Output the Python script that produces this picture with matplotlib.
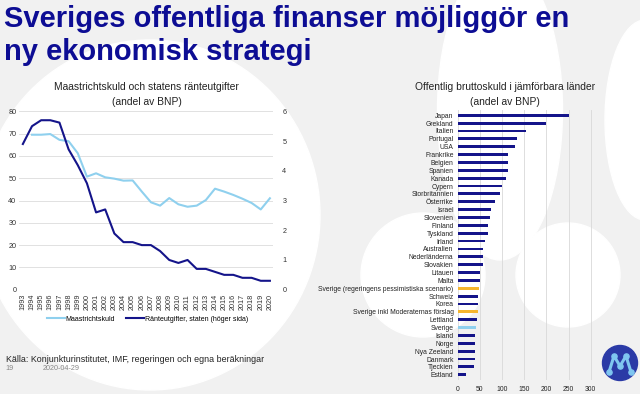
import matplotlib
matplotlib.use("Agg")
import matplotlib.pyplot as plt
from matplotlib.patches import Circle, Ellipse
import numpy as np

plt.rcParams['font.family'] = ['Liberation Sans', 'DejaVu Sans']

# left chart: debt and interest costs
years = list(range(1993, 2021))
maastricht_years = list(range(1994, 2021))
maastricht = [69.5, 69.5, 69.8, 67.2, 66.6, 61.2, 50.7, 52.2, 50.4, 49.8, 48.9, 49.0,
              44.0, 39.2, 37.7, 41.1, 38.3, 37.2, 37.7, 40.2, 45.3, 44.0, 42.5, 40.8,
              38.9, 36.0, 41.0]
ranta = [4.9, 5.5, 5.7, 5.7, 5.62, 4.72, 4.19, 3.58, 2.6, 2.7, 1.89, 1.6, 1.6, 1.5,
         1.5, 1.3, 1.0, 0.9, 1.0, 0.7, 0.7, 0.6, 0.5, 0.5, 0.4, 0.4, 0.3, 0.3]

# right chart: gross debt by country
countries = ['Japan', 'Grekland', 'Italien', 'Portugal', 'USA', 'Frankrike', 'Belgien',
             'Spanien', 'Kanada', 'Cypern', 'Storbritannien', 'Österrike', 'Israel',
             'Slovenien', 'Finland', 'Tyskland', 'Irland', 'Australien', 'Nederländerna',
             'Slovakien', 'Litauen', 'Malta', 'Sverige (regeringens pessimistiska scenario)',
             'Schweiz', 'Korea', 'Sverige inkl Moderaternas förslag', 'Lettland', 'Sverige',
             'Island', 'Norge', 'Nya Zeeland', 'Danmark', 'Tjeckien', 'Estland']
debt = [252, 200, 154, 134, 130, 114, 113.5, 113, 109, 100, 95, 83, 75, 72, 69, 67.5,
        62, 58, 57, 56, 50.5, 50, 48.5, 45.5, 44.7, 44.7, 43, 41, 39.4, 38.6, 38.6, 38,
        36, 19]

navy = '#14148a'
light = '#8fd0ee'
gold = '#f5b52e'
bar_colors = []
for c in countries:
    if c == 'Sverige':
        bar_colors.append(light)
    elif c.startswith('Sverige'):
        bar_colors.append(gold)
    else:
        bar_colors.append(navy)

fig = plt.figure(figsize=(6.4, 3.94), dpi=100)
fig.patch.set_facecolor('#f1f1f1')
W, H = 640, 394

# background watermark shapes
bg = fig.add_axes([0, 0, 1, 1])
bg.set_xlim(0, W)
bg.set_ylim(H, 0)
bg.axis('off')
bg.add_patch(Ellipse((150, 215), 340, 350, color='white', zorder=0))
bg.add_patch(Ellipse((500, 110), 125, 300, color='white', zorder=0))
bg.add_patch(Circle((423, 275), 62, color='white', zorder=0))
bg.add_patch(Circle((568, 275), 52, color='white', zorder=0))
bg.add_patch(Ellipse((645, 120), 80, 200, color='white', zorder=0))

# logo
bg.add_patch(Circle((620, 363), 17.5, color='#2b3aa6', zorder=2))
mx = [609, 614, 620, 626, 631]
my = [372, 356, 366, 356, 372]
bg.plot(mx, my, color='#7fc6f0', lw=2.2, zorder=3, solid_capstyle='round')
bg.scatter([614, 626, 620, 609, 631], [356, 356, 366, 372, 372], s=14, color='#7fc6f0', zorder=4)

fig.text(0.006, 1 - 27 / H, 'Sveriges offentliga finanser möjliggör en',
         fontsize=21, fontweight='bold', color='#0d0d94', va='baseline', ha='left')
fig.text(0.006, 1 - 60 / H, 'ny ekonomisk strategi',
         fontsize=21, fontweight='bold', color='#0d0d94', va='baseline', ha='left')

# left chart
ax = fig.add_axes([0.030, 0.2647, 0.396, 0.4528])
ax2 = ax.twinx()
ax.plot(maastricht_years, maastricht, color=light, lw=1.5, label='Maastrichtskuld')
ax2.plot(years, ranta, color=navy, lw=1.5, label='Ränteutgifter, staten (höger sida)')
ax.set_ylim(0, 80)
ax2.set_ylim(0, 6)
ax.set_xlim(1992.6, 2020.3)
ax.set_yticks(range(0, 81, 10))
ax2.set_yticks(range(0, 7))
ax.set_xticks(years)
ax.set_xticklabels([str(y) for y in years], rotation=90, fontsize=5)
ax.yaxis.grid(True, color='#dcdcdc', lw=0.6)
ax.set_axisbelow(True)
for a in (ax, ax2):
    for s in a.spines.values():
        s.set_visible(False)
    a.tick_params(length=0, labelsize=5.2, colors='#333333')
ax.tick_params(axis='y', pad=2)
ax2.tick_params(axis='y', pad=7)
ax.tick_params(axis='x', pad=3)
ax.patch.set_alpha(0)
fig.text(0.229, 1 - 107 / H, 'Maastrichtskuld och statens ränteutgifter\n(andel av BNP)',
         fontsize=7.4, color='#222222', ha='center', va='bottom', linespacing=1.6)
h1, l1 = ax.get_legend_handles_labels()
h2, l2 = ax2.get_legend_handles_labels()
fig.legend(h1 + h2, l1 + l2, loc='center', bbox_to_anchor=(0.23, 0.19), ncol=2,
           frameon=False, fontsize=5, handlelength=2.6, handletextpad=0.1,
           columnspacing=1.6)

fig.text(0.009, 1 - 359 / H, 'Källa: Konjunkturinstitutet, IMF, regeringen och egna beräkningar',
         fontsize=6.4, color='#222222', va='center')
fig.text(0.009, 1 - 369 / H, '19', fontsize=5.2, color='#888888', va='center')
fig.text(0.066, 1 - 369 / H, '2020-04-29', fontsize=5.2, color='#888888', va='center')

# right chart
bx = fig.add_axes([0.7152, 0.0355, 0.2113, 0.6853])
ypos = np.arange(len(countries))
bx.barh(ypos, debt, height=0.36, color=bar_colors)
bx.set_ylim(len(countries) - 1 + 0.67, -0.67)
bx.set_xlim(0, 305)
bx.set_xticks(range(0, 301, 50))
bx.set_yticks(ypos)
bx.set_yticklabels(countries, fontsize=4.9)
bx.xaxis.grid(True, color='#d8d8d8', lw=0.6)
bx.set_axisbelow(True)
bx.patch.set_alpha(0)
for s in bx.spines.values():
    s.set_visible(False)
bx.tick_params(length=0, labelsize=4.9, colors='#222222')
bx.tick_params(axis='x', pad=4)
bx.tick_params(axis='y', pad=3)
fig.text(0.789, 1 - 107 / H, 'Offentlig bruttoskuld i jämförbara länder\n(andel av BNP)',
         fontsize=7.4, color='#222222', ha='center', va='bottom', linespacing=1.6)

fig.savefig('out.png', dpi=100, facecolor=fig.get_facecolor())
